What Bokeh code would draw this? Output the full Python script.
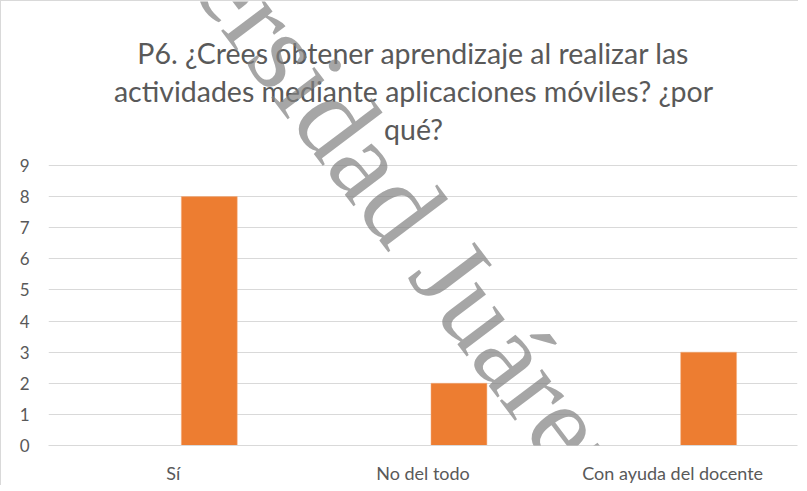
from bokeh.plotting import figure
from bokeh.models import Label, Range1d, FixedTicker
from bokeh.transform import dodge
from bokeh.embed import file_html
from bokeh.resources import INLINE

categories = ["Sí", "No del todo", "Con ayuda del docente"]
values = [8, 2, 3]
y_ticks = list(range(0, 10))
title_lines = [
    "P6. ¿Crees obtener aprendizaje al realizar las",
    "actividades mediante aplicaciones móviles? ¿por",
    "qué?",
]
watermark = "Universidad Juárez"

FONT = "Lato"
GRAY = "#595959"

idx = list(range(len(categories)))
FRAME_H = 444          # frame spans the title area too (pixels)
GRID_H = 280           # pixels from 0 to 9
y_top = y_ticks[-1] * FRAME_H / GRID_H

p = figure(
    x_range=Range1d(-0.5, len(categories) - 0.5),
    y_range=Range1d(0, y_top),
    width=798, height=485,
    output_backend="svg", toolbar_location=None,
    min_border_left=47, min_border_right=2,
    min_border_top=0, min_border_bottom=41,
)
p.extra_x_ranges = {"px": Range1d(0, 749)}
p.extra_y_ranges = {"py": Range1d(0, FRAME_H)}
p.outline_line_color = None
p.styles = {"border-left": "1px solid #d9d9d9", "border-top": "1px solid #d9d9d9"}

p.vbar(x=dodge("idx", 0.144), top="val", width=0.224,
       source=dict(idx=idx, val=values),
       fill_color="#ED7D31", line_color="#F4B183", line_width=0.5)

p.xgrid.grid_line_color = None
p.ygrid.ticker = FixedTicker(ticks=y_ticks)
p.ygrid.grid_line_color = "#d9d9d9"
p.ygrid.grid_line_width = 1.2
p.yaxis.ticker = FixedTicker(ticks=y_ticks)
p.yaxis.axis_line_color = None
p.yaxis.major_tick_line_color = None
p.yaxis.minor_tick_line_color = None
p.yaxis.major_tick_out = 0
p.yaxis.major_label_standoff = 19
p.xaxis.ticker = FixedTicker(ticks=idx)
p.xaxis.major_label_overrides = {i: c for i, c in zip(idx, categories)}
p.xaxis.axis_line_color = "#d9d9d9"
p.xaxis.axis_line_width = 1.2
p.xaxis.major_tick_line_color = None
p.xaxis.minor_tick_line_color = None
p.xaxis.major_tick_out = 0
p.xaxis.major_label_standoff = 16
p.yaxis.major_label_text_font_size = "17px"
p.xaxis.major_label_text_font_size = "18px"
for ax in (p.xaxis, p.yaxis):
    ax.major_label_text_font = FONT
    ax.major_label_text_color = GRAY

for line, yy in zip(title_lines, [393, 355, 317]):
    p.add_layout(Label(x=365, y=yy, x_range_name="px", y_range_name="py",
                       text=line, text_align="center", text_baseline="alphabetic",
                       text_font=FONT, text_font_size="28.5px", text_color=GRAY))

p.add_layout(Label(x=33, y=664, x_range_name="px", y_range_name="py",
                   text=watermark, angle=-53, angle_units="deg",
                   text_align="left", text_baseline="alphabetic",
                   text_font="Liberation Serif", text_font_size="115px",
                   text_color="#808080", text_alpha=0.7))

open("out.html", "w").write(file_html(p, INLINE))
